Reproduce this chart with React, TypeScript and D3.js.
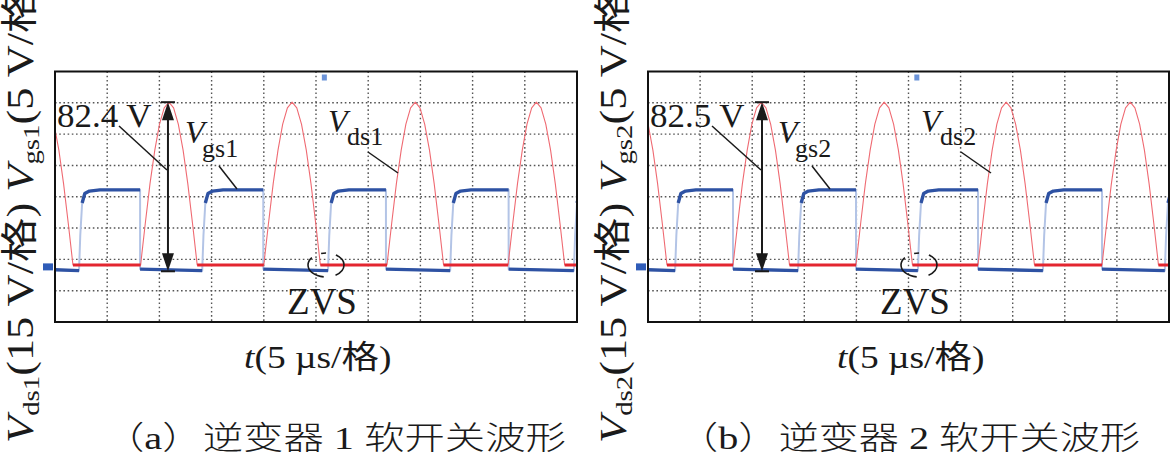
import React from "react";
import * as d3 from "d3";

const SERIF = "'Liberation Serif', 'Times New Roman', 'Noto Sans CJK SC', serif";
const CJK = "'Liberation Serif', 'Noto Sans CJK SC', sans-serif";

// scope graticule: 10 time divisions of 5 µs, 8 voltage divisions
const timeGrid = [5, 10, 15, 20, 25, 30, 35, 40, 45];
const voltGrid = [1, 2, 3, 4, 5, 6, 7];

// channel settings
const VDS_PER_DIV = 15;
const VGS_PER_DIV = 5;
const VDS_ZERO = 1.82; // ground marker position in divisions
const VGS_ZERO = 1.76;

// one resonant Vds half-wave: [µs after start, V]
const vdsPulse: [number, number][] = [
  [0, 0], [0.45, 20], [0.9, 39], [1.36, 55], [1.81, 67.5], [2.26, 75.3], [2.71, 78],
  [3.16, 75.3], [3.61, 67.5], [4.07, 55], [4.52, 39], [4.97, 20], [5.42, 0],
];
// Vgs turn-on edge: [µs after rise, V]
const vgsEdge: [number, number][] = [
  [0, -0.6], [0.12, 5], [0.3, 10.2], [0.55, 11.7], [1.0, 12.1], [2.0, 12.3],
];
const VGS_HIGH = 12.3;

// inverter 1
const vdsStarts1 = [-3.7, 8.2, 20.0, 31.8, 43.4];
const vgsRise1 = [2.3, 14.1, 26.15, 37.85, 49.7];
const vgsFall1 = [8.15, 19.95, 31.7, 43.45];

// inverter 2
const vdsStarts2 = [-3.6, 8.16, 19.96, 31.67, 43.57];
const vgsRise2 = [2.6, 14.4, 25.9, 37.9, 49.6];
const vgsFall2 = [8.16, 19.96, 31.67, 43.57];

type Pt = [number, number];

type PanelProps = {
  id: string;
  n: string;
  left: number;
  right: number;
  top: number;
  bottom: number;
  starts: number[];
  rises: number[];
  falls: number[];
  arrowT: number;
  peakText: string;
  caption: string;
  captionX: number;
  labelX: number;
};

const Panel: React.FC<PanelProps> = (p) => {
  const { id, n, left, right, top, bottom, starts, rises, falls, arrowT } = p;
  const x = d3.scaleLinear().domain([0, 50]).range([left, right]);
  const yDiv = d3.scaleLinear().domain([0, 8]).range([bottom, top]);
  const yVds = (v: number) => yDiv(VDS_ZERO + v / VDS_PER_DIV);
  const yVgs = (v: number) => yDiv(VGS_ZERO + v / VGS_PER_DIV);
  const vdsLine = d3.line<Pt>().x((d) => x(d[0])).y((d) => yVds(d[1]));
  const vgsLine = d3.line<Pt>().x((d) => x(d[0])).y((d) => yVgs(d[1]));

  const width = vdsPulse[vdsPulse.length - 1][0];
  const vdsPts: Pt[] = starts
    .flatMap((s) => vdsPulse.map(([dt, v]) => [s + dt, v] as Pt))
    .concat([[50, 0]]);
  const vdsFlats: Pt[][] = starts.map((s, i) => [
    [s + width, 0],
    [i + 1 < starts.length ? starts[i + 1] : 50, 0],
  ]);

  const vgsPts: Pt[] = [[0, -0.45]];
  const vgsDark: Pt[][] = [];
  let lowStart: Pt = [0, -0.45];
  rises.forEach((r, i) => {
    const edge = vgsEdge.map(([dt, v]) => [r + dt, v] as Pt);
    vgsDark.push([lowStart, [r, -0.6]]);
    vgsPts.push(...edge);
    const high = edge.filter((e) => e[0] >= r + 0.3);
    if (i < falls.length) {
      const f = falls[i];
      vgsPts.push([f, VGS_HIGH], [f, -0.35]);
      vgsDark.push([...high, [f, VGS_HIGH]]);
      lowStart = [f, -0.35];
    } else {
      vgsDark.push(high);
    }
  });

  const ax = x(arrowT);
  const aTop = yVds(78);
  const aBot = yVgs(-0.7);
  const ink = "#1a1a1a";
  const ex = left + 271;
  const ey = yVds(0);

  return (
    <g>
      <defs>
        <clipPath id={`clip-${id}`}>
          <rect x={left} y={top} width={right - left} height={bottom - top} />
        </clipPath>
      </defs>

      {/* graticule */}
      <g stroke="#555" strokeWidth={1.4} strokeDasharray="1.6 2.6">
        {timeGrid.map((t) => (
          <line key={`v${t}`} x1={x(t)} x2={x(t)} y1={top} y2={bottom} />
        ))}
        {voltGrid.map((d) => (
          <line key={`h${d}`} x1={left} x2={right} y1={yDiv(d)} y2={yDiv(d)} />
        ))}
      </g>

      <g clipPath={`url(#clip-${id})`} fill="none" strokeLinejoin="round">
        <path d={vgsLine(vgsPts) ?? ""} stroke="#b3c4e6" strokeWidth={2} />
        {vgsDark.map((seg, i) => (
          <path key={i} d={vgsLine(seg) ?? ""} stroke="#2e52a3" strokeWidth={3.4} />
        ))}
        <path d={vdsLine(vdsPts) ?? ""} stroke="#ef6a72" strokeWidth={1.1} />
        {vdsFlats.map((seg, i) => (
          <path key={i} d={vdsLine(seg) ?? ""} stroke="#e32630" strokeWidth={3} />
        ))}
      </g>

      {/* scope markers */}
      <rect x={left - 12} y={yVgs(0) - 3.5} width={10} height={7} fill="#2f5cb8" />
      <rect x={x(25.8) - 2.5} y={top + 3} width={5} height={6} fill="#6b93d8" />

      <rect x={left} y={top} width={right - left} height={bottom - top}
        fill="none" stroke="#111" strokeWidth={2} />

      {/* peak voltage arrow */}
      <g stroke={ink} strokeWidth={2}>
        <line x1={ax} x2={ax} y1={aTop + 6} y2={aBot - 6} />
        <line x1={ax - 7} x2={ax + 7} y1={aTop} y2={aTop} />
        <line x1={ax - 7} x2={ax + 7} y1={aBot} y2={aBot} />
      </g>
      <path d={`M${ax},${aTop}l-6,18h12z`} fill={ink} />
      <path d={`M${ax},${aBot}l-6,-18h12z`} fill={ink} />

      {/* annotations */}
      <g stroke={ink} strokeWidth={1.5}>
        <line x1={left + 64} y1={126} x2={ax - 1} y2={170} />
        <line x1={left + 164} y1={166} x2={left + 182} y2={189} />
        <line x1={left + 313} y1={152} x2={left + 343} y2={173} />
      </g>
      <ellipse cx={ex} cy={ey} rx={18} ry={12} fill="none"
        stroke={ink} strokeWidth={1.6} strokeDasharray="14 12 30 10 5 10 14.2 0" />

      <g fill={ink} fontFamily={SERIF}>
        <text transform={`translate(${left + 2},127) scale(1.06,1)`} fontSize={33}>{p.peakText}</text>
        <text x={left + 130} y={143} fontSize={32} fontStyle="italic">V</text>
        <text x={left + 147} y={157} fontSize={26}>gs{n}</text>
        <text x={left + 273} y={132} fontSize={32} fontStyle="italic">V</text>
        <text x={left + 292} y={145} fontSize={26}>ds{n}</text>
        <text x={left + 267} y={314} fontSize={37} textAnchor="middle">ZVS</text>
        <text transform={`translate(${left + 189},368) scale(1.17,1)`} fontSize={32}>
          <tspan fontStyle="italic">t</tspan>(5 µs/格)
        </text>
        <text transform={`translate(${p.labelX},443) rotate(-90) scale(1.2,1)`} fontSize={37}>
          <tspan fontStyle="italic">V</tspan>
          <tspan fontSize={24} dy={6}>ds{n}</tspan>
          <tspan dy={-6}>(15 V/格) </tspan>
          <tspan fontStyle="italic">V</tspan>
          <tspan fontSize={24} dy={6}>gs{n}</tspan>
          <tspan dy={-6}>(5 V/格)</tspan>
        </text>
      </g>
      <text x={p.captionX} y={449} fontSize={32} fontWeight={300} textLength={462}
        lengthAdjust="spacingAndGlyphs" fontFamily={CJK} fill={ink}>{p.caption}</text>
    </g>
  );
};

export default function App() {
  return (
    <svg width={1171} height={454} viewBox="0 0 1171 454"
      style={{ position: "absolute", left: 0, top: 0, background: "#fff" }}>
      <rect width={1171} height={454} fill="#fff" />
      <Panel id="a" n="1" left={55} right={577} top={71.5} bottom={322}
        starts={vdsStarts1} rises={vgsRise1} falls={vgsFall1} arrowT={10.82}
        peakText="82.4 V" caption="（a）逆变器 1 软开关波形" captionX={104} labelX={33} />
      <Panel id="b" n="2" left={648} right={1169} top={71.5} bottom={322}
        starts={vdsStarts2} rises={vgsRise2} falls={vgsFall2} arrowT={10.94}
        peakText="82.5 V" caption="（b）逆变器 2 软开关波形" captionX={678} labelX={626} />
    </svg>
  );
}
